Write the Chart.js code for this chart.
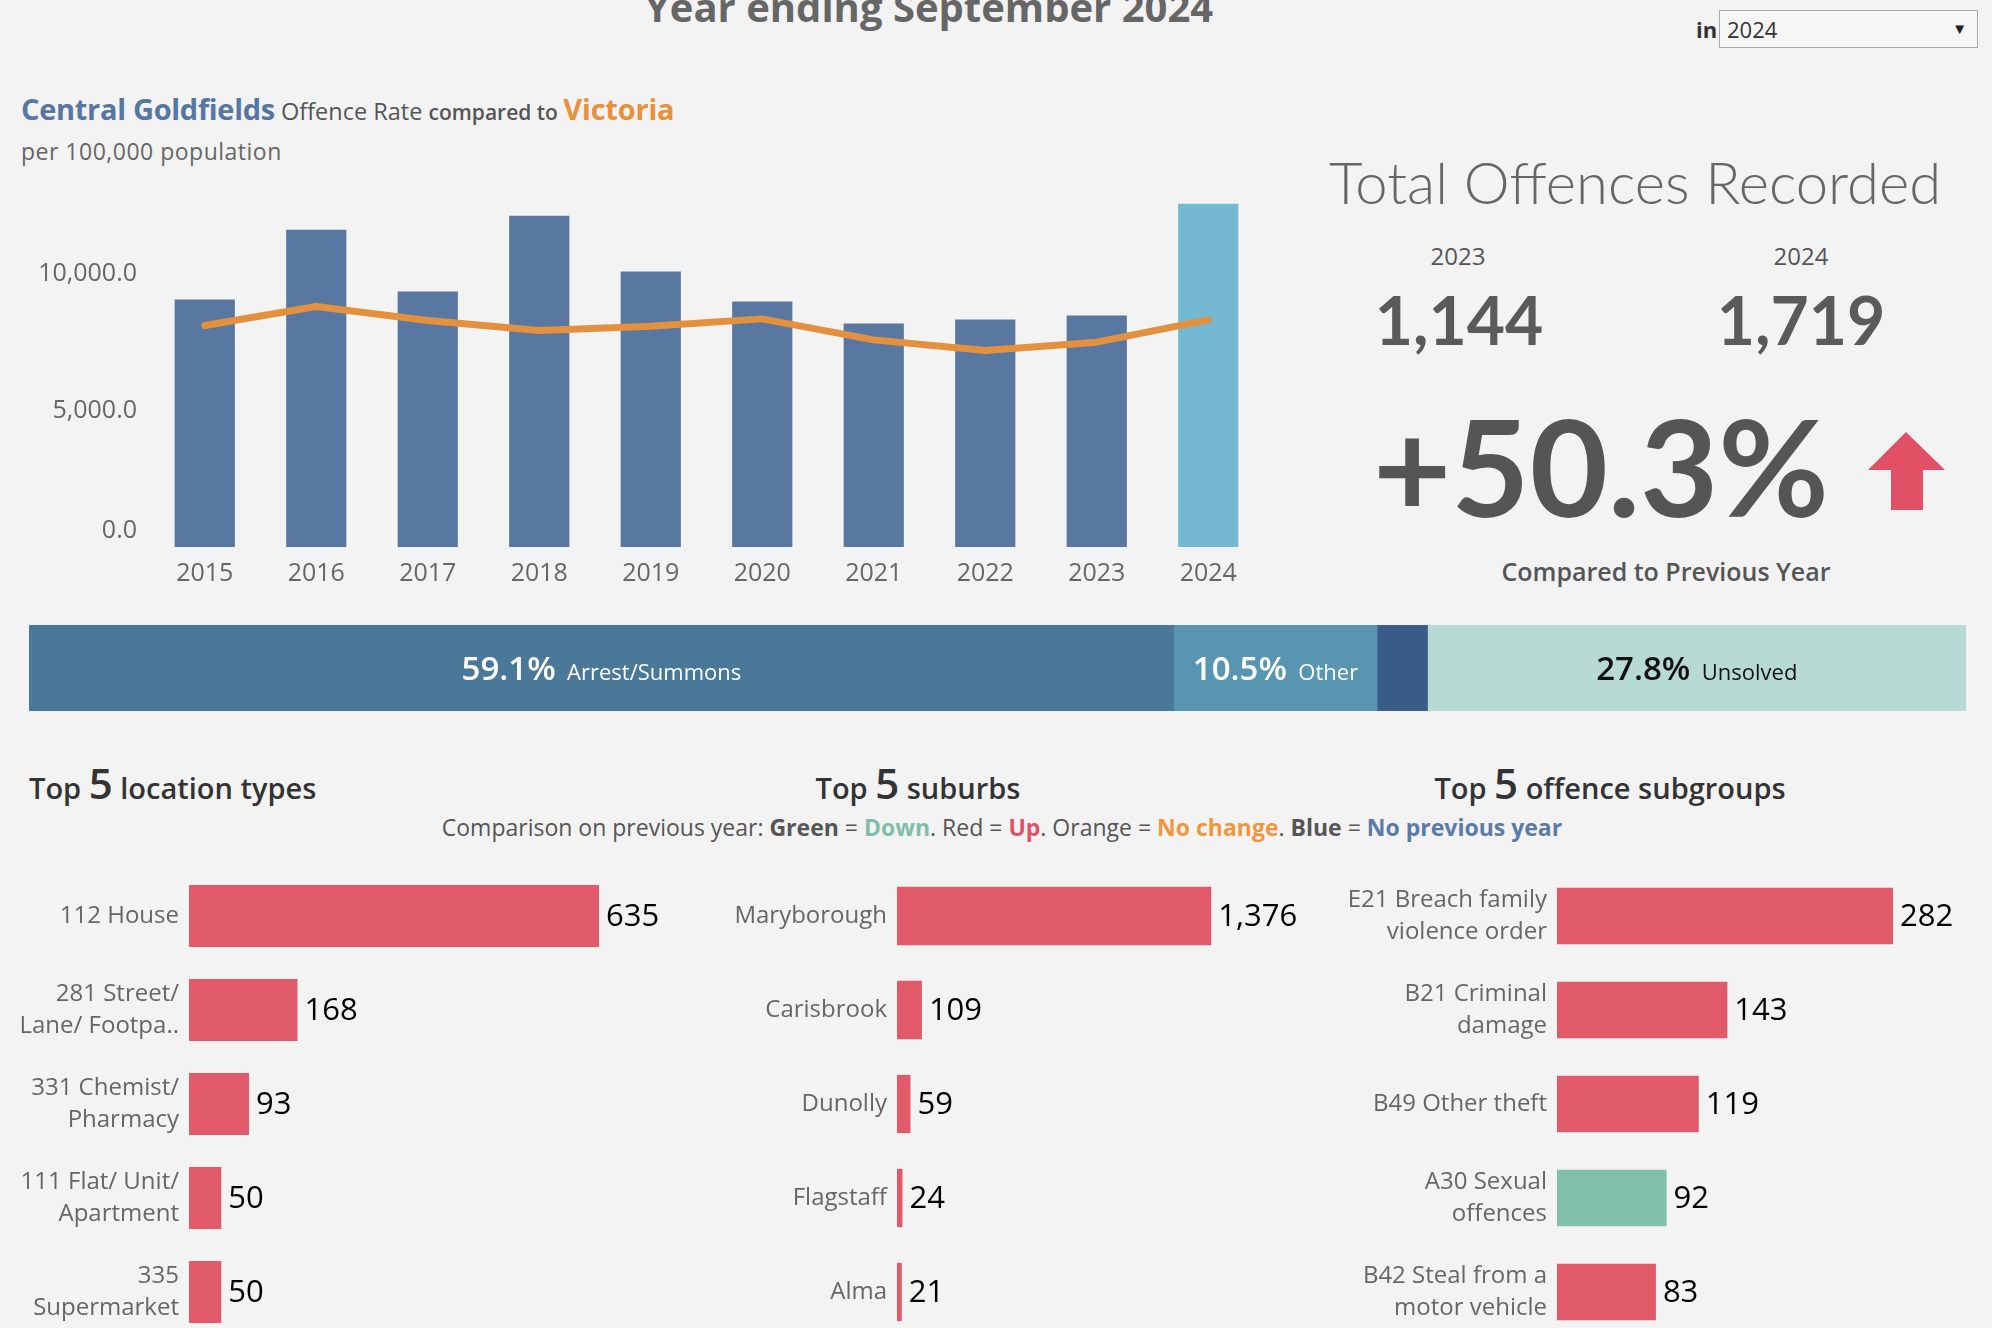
<!DOCTYPE html>
<html>
<head>
<meta charset="utf-8">
<script src="https://cdn.jsdelivr.net/npm/chart.js@4.4.1/dist/chart.umd.min.js"></script>
<style>
  html, body { margin:0; padding:0; width:1992px; height:1328px; overflow:hidden; background:#f3f3f3; font-family: "Open Sans", "Noto Sans", sans-serif; }
  .abs { position:absolute; white-space:nowrap; line-height:1; }
  canvas { position:absolute; }
</style>
</head>
<body>
<script>
// ---------- DATA ----------
const years = ['2015','2016','2017','2018','2019','2020','2021','2022','2023','2024'];
const centralGoldfieldsRate = [9061, 11622, 9354, 12134, 10085, 8988, 8183, 8329, 8476, 12573];
const victoriaRate = [8110, 8805, 8293, 7927, 8085, 8354, 7585, 7195, 7500, 8317];
const rateTicks = [0, 5000, 10000];

const totalPrevYear = '2023', totalCurYear = '2024';
const totalPrev = 1144, totalCur = 1719;
const totalChangeText = '+50.3%';

const outcomeNames = ['Arrest/Summons', 'Other', 'Unknown', 'Unsolved'];
const outcomeShares = [59.1, 10.5, 2.6, 27.8];

const locationLabels = ['112 House', ['281 Street/','Lane/ Footpa..'], ['331 Chemist/','Pharmacy'], ['111 Flat/ Unit/','Apartment'], ['335','Supermarket']];
const locationCounts = [635, 168, 93, 50, 50];
const locationTrend = ['up','up','up','up','up'];

const suburbLabels = ['Maryborough','Carisbrook','Dunolly','Flagstaff','Alma'];
const suburbCounts = [1376, 109, 59, 24, 21];
const suburbTrend = ['up','up','up','up','up'];

const offenceLabels = [['E21 Breach family','violence order'], ['B21 Criminal','damage'], 'B49 Other theft', ['A30 Sexual','offences'], ['B42 Steal from a','motor vehicle']];
const offenceCounts = [282, 143, 119, 92, 83];
const offenceTrend = ['up','up','up','down','up'];

// ---------- STYLE ----------
const trendColor = { up:'#e15a6a', down:'#80bfab', same:'#f0963c', none:'#5a7ba8' };
const FONT = '"Open Sans", "Noto Sans", sans-serif';
const NUMFONT = 'Lato, "Open Sans", sans-serif';
Chart.defaults.font.family = FONT;
Chart.defaults.animation = false;
Chart.defaults.plugins.legend.display = false;
Chart.defaults.plugins.tooltip.enabled = false;

function addCanvas(left, top, w, h) {
  const c = document.createElement('canvas');
  c.width = w; c.height = h;
  c.style.left = left + 'px'; c.style.top = top + 'px';
  c.style.width = w + 'px'; c.style.height = h + 'px';
  document.body.appendChild(c);
  return c;
}
function addText(html, css) {
  const d = document.createElement('div');
  d.className = 'abs';
  d.innerHTML = html;
  Object.assign(d.style, css);
  document.body.appendChild(d);
  return d;
}

// ---------- TEXT ----------
addText('Year ending September 2024', {left:'0px', width:'1858px', textAlign:'center', top:'-13px', fontSize:'40px', fontWeight:'700', color:'#666'});
addText('in', {left:'1696px', top:'18px', fontSize:'22px', fontWeight:'700', color:'#333'});
addText('<span style="position:absolute;left:7px;top:7px;font-size:22px;color:#333">2024</span><span style="position:absolute;right:10px;top:10px;font-size:15px;color:#222">&#9660;</span>',
  {left:'1719px', top:'10px', width:'257px', height:'36px', border:'1px solid #aaa', background:'#f6f6f6'});

addText('<span style="font-size:29px;font-weight:700;color:#5677a4;letter-spacing:-0.3px">Central Goldfields</span><span style="font-size:23.5px;color:#555"> Offence Rate </span><span style="font-size:21px;font-weight:600;color:#555">compared to </span><span style="font-size:29px;font-weight:700;color:#e8903a;letter-spacing:-0.2px">Victoria</span>',
  {left:'21px', top:'94px'});
addText('per 100,000 population', {left:'21px', top:'140px', fontSize:'23px', color:'#666', letterSpacing:'0.5px'});

addText('Total Offences Recorded', {left:'1329px', width:'600px', textAlign:'center', top:'153px', fontSize:'58px', fontWeight:'300', color:'#666', fontFamily:NUMFONT});
addText(totalPrevYear, {left:'1358px', width:'200px', textAlign:'center', top:'244px', fontSize:'24px', color:'#555'});
addText(totalCurYear, {left:'1701px', width:'200px', textAlign:'center', top:'244px', fontSize:'24px', color:'#555'});
addText(totalPrev.toLocaleString('en-US'), {left:'1309px', width:'300px', textAlign:'center', top:'287px', fontSize:'66px', fontWeight:'700', color:'#5a5a5a', fontFamily:NUMFONT});
addText(totalCur.toLocaleString('en-US'), {left:'1651px', width:'300px', textAlign:'center', top:'287px', fontSize:'66px', fontWeight:'700', color:'#5a5a5a', fontFamily:NUMFONT});
addText(totalChangeText, {left:'1301px', width:'600px', textAlign:'center', top:'398px', fontSize:'135px', fontWeight:'700', color:'#555', fontFamily:NUMFONT});
addText('<svg width="80" height="80" viewBox="0 0 80 80"><polygon points="0,38 38,0 77,38 55,38 55,78 23,78 23,38" fill="#e15064"/></svg>', {left:'1868px', top:'432px'});
addText('Compared to Previous Year', {left:'1466px', width:'400px', textAlign:'center', top:'559px', fontSize:'25px', fontWeight:'600', color:'#555'});

addText('<span style="font-size:29px">Top </span><span style="font-size:42px">5</span><span style="font-size:29px"> location types</span>', {left:'29px', top:'762px', fontWeight:'600', color:'#333'});
addText('<span style="font-size:29px">Top </span><span style="font-size:42px">5</span><span style="font-size:29px"> suburbs</span>', {left:'668px', width:'500px', textAlign:'center', top:'762px', fontWeight:'600', color:'#333'});
addText('<span style="font-size:29px">Top </span><span style="font-size:42px">5</span><span style="font-size:29px"> offence subgroups</span>', {left:'1360px', width:'500px', textAlign:'center', top:'762px', fontWeight:'600', color:'#333'});
addText('Comparison on previous year: <b>Green</b> = <b style="color:#7fbfa8">Down</b>. Red = <b style="color:#e15064">Up</b>. Orange = <b style="color:#f0963c">No change</b>. <b>Blue</b> = <b style="color:#5a7ba8">No previous year</b>',
  {left:'402px', width:'1200px', textAlign:'center', top:'816px', fontSize:'23px', color:'#555'});

// ---------- MAIN RATE CHART ----------
const zeroLabelLift = {
  id:'zeroLabelLift',
  beforeDraw(chart) {
    const items = chart.scales.y.getLabelItems();
    items.forEach((it, i) => {
      if (chart.scales.y.ticks[i] && chart.scales.y.ticks[i].value === 0 && !it._lifted) {
        it.options.translation[1] -= 16; it._lifted = true;
      }
    });
  }
};
new Chart(addCanvas(0, 150, 1290, 450), {
  data: {
    labels: years,
    datasets: [
      { type:'line', label:'Victoria', data: victoriaRate, borderColor:'#e4913f', borderWidth:7, pointRadius:0, tension:0, order:0, borderCapStyle:'round', borderJoinStyle:'round' },
      { type:'bar', label:'Central Goldfields', data: centralGoldfieldsRate,
        backgroundColor: years.map((y,i) => i === years.length-1 ? '#74b8d2' : '#5878a2'),
        barPercentage:0.54, categoryPercentage:1, order:1 }
    ]
  },
  options: {
    responsive:false,
    layout:{ padding:{ top:42, right:26, left:0, bottom:0 } },
    scales: {
      x: { grid:{display:false, drawTicks:false}, border:{display:false},
           ticks:{ color:'#666', font:{size:25}, padding:12 },
           afterFit: s => { s.height = 53; } },
      y: { min:0, max:13000, grid:{display:false, drawTicks:false}, border:{display:false},
           afterBuildTicks: s => { s.ticks = rateTicks.map(v => ({value:v})); },
           ticks:{ color:'#666', font:{size:25}, padding:12,
                   callback: v => Number(v).toLocaleString('en-US',{minimumFractionDigits:1, maximumFractionDigits:1}) },
           afterFit: s => { s.width = 149; } }
    }
  },
  plugins:[zeroLabelLift]
});

// ---------- OUTCOME STACKED BAR ----------
const outcomeColors = ['#4a7898', '#5895b1', '#385b87', '#b7dbd4'];
const outcomeTextColors = ['#fff', '#fff', '#fff', '#111'];
new Chart(addCanvas(29, 625, 1937, 86), {
  type:'bar',
  data: {
    labels:['Outcome'],
    datasets: outcomeNames.map((n,i) => ({ label:n, data:[outcomeShares[i]], backgroundColor:outcomeColors[i], barPercentage:1, categoryPercentage:1, borderWidth:0 }))
  },
  options: {
    responsive:false, indexAxis:'y',
    layout:{ padding:0 },
    scales: { x:{ stacked:true, min:0, max:100, display:false }, y:{ stacked:true, display:false } }
  },
  plugins:[{
    id:'segLabels',
    afterDatasetsDraw(chart) {
      const ctx = chart.ctx;
      chart.data.datasets.forEach((ds, i) => {
        const v = ds.data[0];
        if (v < 5) return;
        const el = chart.getDatasetMeta(i).data[0];
        const cx = (el.x + el.base) / 2;
        const pct = v.toFixed(1) + '%';
        const name = '  ' + ds.label;
        ctx.save();
        ctx.font = '600 33px ' + FONT;
        const w1 = ctx.measureText(pct).width;
        ctx.font = '22px ' + FONT;
        const w2 = ctx.measureText(name).width;
        const x0 = cx - (w1 + w2) / 2;
        ctx.fillStyle = outcomeTextColors[i];
        ctx.textBaseline = 'alphabetic';
        ctx.font = '600 33px ' + FONT;
        ctx.fillText(pct, x0, el.y + 12);
        ctx.font = '22px ' + FONT;
        ctx.fillText(name, x0 + w1, el.y + 12);
        ctx.restore();
      });
    }
  }]
});

// ---------- TOP 5 CHARTS ----------
const valueLabelPlugin = {
  id:'valueLabels',
  afterDatasetsDraw(chart) {
    const ctx = chart.ctx;
    const meta = chart.getDatasetMeta(0);
    ctx.save();
    ctx.font = '500 31px ' + FONT;
    ctx.fillStyle = '#000';
    ctx.textBaseline = 'middle';
    meta.data.forEach((el, i) => {
      ctx.fillText(chart.data.datasets[0].data[i].toLocaleString('en-US'), el.x + 7, el.y + 1);
    });
    ctx.restore();
  }
};
function topChart(left, width, axisW, xMax, padRight, labels, counts, trend, barPct) {
  return new Chart(addCanvas(left, 869, width, 470), {
    type:'bar',
    data: { labels, datasets:[{ data:counts, backgroundColor: trend.map(t => trendColor[t]), barPercentage:barPct, categoryPercentage:1, borderWidth:0 }] },
    options: {
      responsive:false, indexAxis:'y',
      layout:{ padding:{ top:0, bottom:0, left:0, right:padRight } },
      scales: {
        x:{ display:false, min:0, max:xMax },
        y:{ grid:{display:false, drawTicks:false}, border:{display:false},
            ticks:{ color:'#666', font:{size:24, lineHeight:1.33}, padding:10 },
            afterFit: s => { s.width = axisW; s.paddingTop = 0; s.paddingBottom = 0; } }
      }
    },
    plugins:[valueLabelPlugin]
  });
}
topChart(0, 700, 189, 700, 59, locationLabels, locationCounts, locationTrend, 0.66);
topChart(700, 630, 197, 1800, 22, suburbLabels, suburbCounts, suburbTrend, 0.62);
topChart(1330, 662, 227, 350, 18, offenceLabels, offenceCounts, offenceTrend, 0.6);
</script>
</body>
</html>
